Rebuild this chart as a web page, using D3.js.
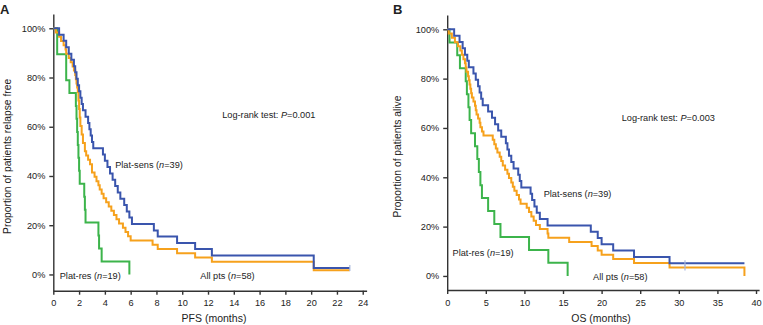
<!DOCTYPE html>
<html lang="en">
<head>
<meta charset="UTF-8">
<title>PFS and OS by platinum sensitivity</title>
<script src="https://d3js.org/d3.v7.min.js"></script>
<style>
  body { margin: 0; background: #fff; }
  svg text { font-family: "Liberation Sans", Arial, Helvetica, sans-serif; fill: #222; }
</style>
</head>
<body>
<svg id="chart" width="763" height="325"></svg>
<script>
// Kaplan-Meier steps: [months, % still event free]
const pfsSens = [[0,100],[0.45,97.4],[0.8,94.9],[1.0,92.3],[1.2,89.7],[1.4,87.2],[1.6,84.6],[1.7,82.1],[1.8,79.5],[1.9,76.9],
  [2.0,74.4],[2.1,71.8],[2.2,69.2],[2.3,66.7],[2.5,64.1],[2.7,61.5],[2.8,59.0],[2.9,56.4],[3.0,53.8],[3.1,51.3],
  [3.85,48.7],[4.0,46.2],[4.2,43.6],[4.4,41.0],[4.6,38.5],[4.8,35.9],[5.0,33.3],[5.2,30.8],[5.5,28.2],[5.7,25.6],
  [5.9,23.1],[6.1,20.5],[7.8,17.9],[8.1,15.4],[9.6,12.8],[11.0,10.3],[12.3,7.7],[20.2,2.6],[23.0,2.6]];
const pfsAll = [[0,100],[0.2,98.3],[0.45,96.6],[0.6,94.8],[0.8,93.1],[0.95,91.4],[1.0,89.7],[1.2,87.9],[1.35,86.2],[1.5,84.5],
  [1.6,82.8],[1.7,81.0],[1.75,79.3],[1.8,77.6],[1.85,75.9],[1.9,74.1],[1.95,70.7],[2.0,67.2],[2.05,63.8],[2.1,60.3],
  [2.2,56.9],[2.3,53.4],[2.45,50.0],[2.55,48.3],[2.7,46.6],[2.85,44.8],[3.0,41.4],[3.2,39.7],[3.35,37.9],[3.5,36.2],
  [3.6,34.5],[3.75,32.8],[3.9,31.0],[4.1,29.3],[4.3,27.6],[4.5,25.9],[4.7,24.1],[4.9,22.4],[5.1,20.7],[5.4,19.0],
  [5.6,17.2],[5.8,15.5],[6.0,13.8],[7.7,12.1],[8.1,10.3],[9.6,8.6],[11.0,6.9],[12.3,5.2],[20.2,1.7],[23.0,1.7]];
const pfsRes = [[0,100],[0.3,89.5],[1.0,78.9],[1.25,73.7],[1.75,68.4],[1.8,63.2],[1.85,57.9],[1.9,52.6],[1.95,47.4],
  [2.0,42.1],[2.05,36.8],[2.4,31.6],[2.45,26.3],[2.5,21.1],[3.5,15.8],[3.55,10.5],[3.75,5.3],[5.9,0]];

const osSens = [[0,100],[0.9,97.4],[1.6,94.9],[2.0,92.3],[2.3,89.7],[2.6,87.2],[2.8,84.6],[3.4,82.1],[3.7,79.5],[4.0,76.9],
  [4.2,74.4],[4.4,71.8],[4.6,69.2],[5.3,66.7],[5.8,64.1],[6.2,61.5],[6.6,59.0],[7.0,56.4],[7.6,53.8],[7.8,51.3],
  [8.0,48.7],[8.3,46.2],[8.6,43.6],[9.2,41.0],[9.4,38.5],[9.6,35.9],[10.8,33.3],[11.0,30.8],[11.3,28.2],[11.6,25.6],
  [12.0,23.1],[13.0,20.5],[18.6,17.9],[19.5,15.4],[20.0,12.8],[21.5,10.3],[24.2,7.7],[28.8,5.1],[38.5,5.1]];
const osAll = [[0,100],[0.2,98.3],[0.6,96.6],[1.0,94.8],[1.4,93.1],[1.7,91.4],[1.9,89.7],[2.1,87.9],[2.3,86.2],[2.4,84.5],
  [2.5,82.8],[2.7,81.0],[2.8,79.3],[2.9,77.6],[3.0,75.9],[3.1,74.1],[3.2,72.4],[3.4,70.7],[3.6,69.0],[3.7,67.2],
  [3.8,65.5],[4.0,63.8],[4.2,62.1],[4.3,60.3],[4.5,58.6],[4.7,56.9],[5.9,55.2],[6.1,53.4],[6.3,51.7],[6.5,50.0],
  [6.8,48.3],[7.0,46.6],[7.2,44.8],[7.5,43.1],[7.8,41.4],[8.0,39.7],[8.3,37.9],[8.5,36.2],[8.7,34.5],[9.0,32.8],
  [9.3,31.0],[9.5,29.3],[10.3,27.6],[10.6,25.9],[10.9,24.1],[11.2,22.4],[11.5,20.7],[12.0,19.0],[13.0,17.2],[13.1,15.5],
  [15.8,13.8],[18.7,12.1],[19.5,10.3],[20.0,8.6],[21.5,6.9],[24.2,5.2],[28.8,3.4],[38.5,3.4],[38.5,0]];
const osRes = [[0,100],[0.3,94.7],[1.3,89.5],[1.65,84.2],[2.4,78.9],[2.55,73.7],[2.75,68.4],[2.9,63.2],[3.1,57.9],
  [3.6,52.6],[3.9,47.4],[4.1,42.1],[4.3,36.8],[4.5,31.6],[5.3,26.3],[6.1,21.1],[6.9,15.8],[10.6,10.5],[13.1,5.3],[15.6,0]];

// censored observations marked on the curves
const pfsCensor = [[23.0, "sens"]];
const osCensor = [[30.8, "sens"], [30.8, "all"]];

const yTicks = [0, 20, 40, 60, 80, 100];
const pfsTicks = [0, 2, 4, 6, 8, 10, 12, 14, 16, 18, 20, 22, 24];
const osTicks = [0, 5, 10, 15, 20, 25, 30, 35, 40];

const colors = { sens: "#3a55ad", all: "#f6a11c", res: "#3cb44b" };

const panels = [
  {
    letter: "A", letterX: 0, xDomain: [0, 24.3], xRange: [53.3, 366.6], yDomain: [-6.6, 105.8], yRange: [290.7, 14],
    xTicks: pfsTicks, xTitle: "PFS (months)", xTitleX: 214, yTitle: "Proportion of patients relapse free", yTitleX: 10.5,
    curves: { res: pfsRes, all: pfsAll, sens: pfsSens }, censor: pfsCensor, pValue: "0.001",
    pos: { logrank: [13.1, 65], sens: [4.8, 44.5], res: [0.5, -0.5], all: [11.4, -0.5] }
  },
  {
    letter: "B", letterX: 393, xDomain: [0, 40.4], xRange: [447.2, 759.1], yDomain: [-5.7, 105.8], yRange: [290, 15],
    xTicks: osTicks, xTitle: "OS (months)", xTitleX: 601, yTitle: "Proportion of patients alive", yTitleX: 401,
    curves: { res: osRes, all: osAll, sens: osSens }, censor: osCensor, pValue: "0.003",
    pos: { logrank: [22.6, 64], sens: [12.5, 33.5], res: [0.7, 9.5], all: [18.9, -0.5] }
  }
];

const svg = d3.select("#chart");

function stepValue(curve, t) {
  let v = curve[0][1];
  curve.forEach(d => { if (d[0] <= t) v = d[1]; });
  return v;
}

function label(g, x, y, parts, anchor) {
  const t = g.append("text")
    .attr("x", x).attr("y", y)
    .attr("dy", "0.35em")
    .attr("font-size", 9.2)
    .attr("text-anchor", anchor || "start");
  parts.forEach(p => {
    t.append("tspan").attr("font-style", p[1] ? "italic" : null).text(p[0]);
  });
}

panels.forEach(p => {
  const g = svg.append("g");
  const x = d3.scaleLinear().domain(p.xDomain).range(p.xRange);
  const y = d3.scaleLinear().domain(p.yDomain).range(p.yRange);

  // panel letter
  g.append("text")
    .attr("x", p.letterX).attr("y", 14)
    .attr("font-size", 13).attr("font-weight", "bold")
    .text(p.letter);

  // axes
  const yAxis = g.append("g")
    .attr("transform", `translate(${p.xRange[0]},0)`)
    .call(d3.axisLeft(y).tickValues(yTicks).tickSize(4).tickSizeOuter(0).tickPadding(4).tickFormat(d => d + "%"));
  const xAxis = g.append("g")
    .attr("transform", `translate(0,${p.yRange[0]})`)
    .call(d3.axisBottom(x).tickValues(p.xTicks).tickSize(4).tickSizeOuter(0).tickPadding(5));
  [yAxis, xAxis].forEach(a => {
    a.selectAll("path, line").attr("stroke", "#333").attr("stroke-width", 1.4);
    a.selectAll("text").attr("font-size", 9.2).style("font-family", '"Liberation Sans", Arial, sans-serif').attr("fill", "#222");
  });

  // axis titles
  g.append("text")
    .attr("x", p.xTitleX).attr("y", 322)
    .attr("text-anchor", "middle").attr("font-size", 10.5)
    .text(p.xTitle);
  g.append("text")
    .attr("transform", `translate(${p.yTitleX},${(p.yRange[0] + p.yRange[1]) / 2 + 4}) rotate(-90)`)
    .attr("text-anchor", "middle").attr("font-size", 10.3)
    .text(p.yTitle);

  // survival curves
  const line = d3.line()
    .x(d => x(d[0]))
    .y(d => y(d[1]))
    .curve(d3.curveStepAfter);

  ["res", "all", "sens"].forEach(k => {
    g.append("path")
      .datum(p.curves[k])
      .attr("fill", "none")
      .attr("stroke", colors[k])
      .attr("stroke-width", 2)
      .attr("d", line);
  });

  // censor ticks
  p.censor.forEach(c => {
    const v = stepValue(p.curves[c[1]], c[0]);
    g.append("line")
      .attr("x1", x(c[0])).attr("x2", x(c[0]))
      .attr("y1", y(v) - 3).attr("y2", y(v) + 3)
      .attr("stroke", "#a9b8dd").attr("stroke-width", 1.2);
  });

  // annotations
  label(g, x(p.pos.logrank[0]), y(p.pos.logrank[1]), [["Log-rank test: "], ["P", true], ["=" + p.pValue]]);
  label(g, x(p.pos.sens[0]), y(p.pos.sens[1]), [["Plat-sens ("], ["n", true], ["=39)"]]);
  label(g, x(p.pos.res[0]), y(p.pos.res[1]), [["Plat-res ("], ["n", true], ["=19)"]]);
  label(g, x(p.pos.all[0]), y(p.pos.all[1]), [["All pts ("], ["n", true], ["=58)"]]);
});
</script>
</body>
</html>
